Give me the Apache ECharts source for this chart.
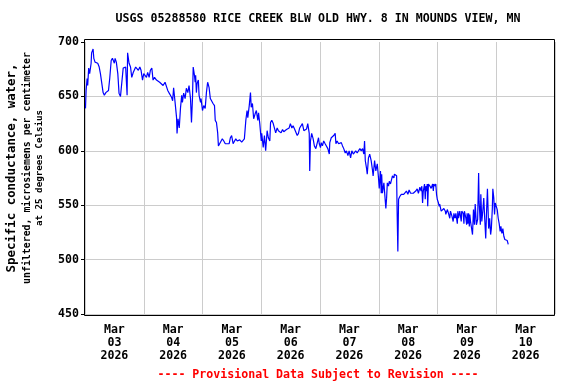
<!DOCTYPE html>
<html><head><meta charset="utf-8">
<script src="https://cdn.jsdelivr.net/npm/echarts@6/dist/echarts.min.js"></script>
<style>html,body{margin:0;padding:0;background:#fff}#c{width:576px;height:384px}</style>
</head><body><div id="c"></div>
<script>
const chartTitle = 'USGS 05288580 RICE CREEK BLW OLD HWY. 8 IN MOUNDS VIEW, MN';
const yAxisTitle = ['Specific conductance, water,', 'unfiltered, microsiemens per centimeter', 'at 25 degrees Celsius'];
const footerText = '---- Provisional Data Subject to Revision ----';
const dayLabels = ['Mar\n03\n2026','Mar\n04\n2026','Mar\n05\n2026','Mar\n06\n2026','Mar\n07\n2026','Mar\n08\n2026','Mar\n09\n2026','Mar\n10\n2026'];
const yTicks = [450, 500, 550, 600, 650, 700];
const hourRange = [0, 192]; // hours since 2026-03-03 00:00
// [hours since Mar 03 00:00, specific conductance]
const readings = [
[0.2,639],[0.45,655.5],[0.86,666.5],[1.1,660],[1.5,676],[1.9,671],[2.5,680.5],[2.7,690],[3.3,693.5],[3.6,685],
[4.1,681.5],[4.7,680.5],[5.2,680.5],[5.8,677],[6.3,671],[6.8,671],[7.4,653.5],[7.9,651],[8.5,653.5],[9.0,653],
[9.6,655.5],[10.1,666.5],[10.7,683],[11.2,685],[11.7,686],[12.0,680.5],[12.3,685],[12.8,681.5],[13.4,671],[13.9,653],
[14.5,650],[15.0,649],[15.6,676],[16.1,677],[16.6,677],[17.2,651],[17.4,690],[18.0,680.5],[18.6,677],[19.1,667.5],
[19.7,672],[20.2,671],[20.7,677],[21.3,676],[21.8,674],[22.4,677],[22.9,674],[23.5,665],[24.0,671],[24.6,672],
[25.1,667.5],[25.6,672],[26.2,667.5],[26.7,674],[27.3,676],[27.8,665],[28.4,667.5],[29.2,665],[30.0,666],[30.5,663],
[31.3,662],[31.9,660],[32.4,661],[32.7,663],[33.3,662],[33.8,655.5],[34.4,653],[34.9,651],[35.4,649],[35.8,646],
[36.2,658],[36.8,644.5],[37.4,630.5],[37.6,616],[38.0,629.5],[38.5,621],[39.0,639],[39.5,651],[39.8,644.5],[40.3,653],
[40.9,648],[41.4,657.5],[42.0,653.5],[42.5,660],[43.1,648],[43.5,626],[43.9,648],[44.2,677],[44.7,669.5],[45.0,663],
[45.2,669.5],[45.5,653.5],[45.8,662],[46.3,665],[46.6,651],[47.2,644.5],[47.4,648],[48.0,637],[48.5,641.5],[49.1,639],
[49.6,653.5],[50.1,663],[50.7,658],[51.2,648],[51.8,649],[52.3,643.5],[52.9,641.5],[53.2,628],[53.7,626],[54.2,616.5],
[54.5,604.5],[55.0,606.5],[55.6,607.5],[56.1,611],[56.7,609],[57.3,606.5],[58.1,606.5],[58.9,606.5],[59.4,612],[59.9,614],
[60.5,606.5],[61.1,609],[61.6,611],[62.2,609],[63.0,608],[63.2,610],[64.0,608],[64.6,606.5],[65.1,611],[65.7,628],
[66.2,637],[66.5,630.5],[67.1,641.5],[67.6,653.5],[67.9,640],[68.4,643.5],[68.9,629.5],[69.5,634],[70.0,637],[70.6,628],
[70.9,635],[71.4,625],[72.0,609],[72.2,616],[72.8,603],[73.3,614],[73.8,600],[74.4,618.5],[74.9,612],[75.5,609],
[75.8,626],[76.3,628],[76.9,625],[77.4,626],[77.9,616.5],[78.5,621],[79.0,618.5],[79.6,620],[80.1,616.5],[80.7,619.5],
[81.2,617.5],[81.8,618.5],[82.3,619.5],[82.8,620],[83.4,621],[83.9,625],[84.5,621],[85.0,623],[85.6,620],[86.1,618.5],
[86.7,614],[87.2,616],[87.7,621],[88.3,620],[88.8,625],[89.4,618.5],[89.9,620],[90.5,620],[91.0,625],[91.3,626],
[91.6,616],[91.8,581.5],[92.1,609],[92.6,616],[93.2,611],[93.7,604.5],[94.3,602],[94.8,606.5],[95.4,612],[95.7,606.5],
[96.2,603],[96.5,607.5],[97.0,604.5],[97.5,609],[98.1,606.5],[98.6,606.5],[99.2,602],[99.8,597],[100.0,607.5],[100.6,612],
[101.1,611],[101.6,614],[102.2,616],[102.5,606.5],[103.0,609],[103.6,606.5],[104.1,607.5],[104.7,607.5],[105.2,604.5],[105.7,602],
[106.3,598],[106.8,600],[107.4,595.5],[107.9,600],[108.5,593.5],[109.0,600],[109.6,597],[110.1,598],[110.6,600],[111.2,598],
[111.7,600],[112.3,602],[112.8,600],[113.4,602],[113.9,597],[114.2,609],[114.5,591],[115.0,584],[115.3,578.5],[115.8,593.5],
[116.3,597],[116.9,591],[117.4,583],[117.7,577],[118.3,591],[118.8,581.5],[119.4,588],[119.9,575],[120.2,565.5],[120.4,572],
[120.7,581.5],[121.0,561],[121.2,578.5],[121.5,561],[122.1,570.5],[122.6,569.5],[122.9,547],[123.2,556.5],[123.5,570.5],[124.0,567.5],
[124.3,572],[124.8,569.5],[125.3,570.5],[125.6,577],[126.2,575],[126.4,578.5],[127.0,578.5],[127.3,577],[127.5,544.5],[127.8,507.5],
[128.1,555.5],[128.6,558],[129.2,560],[129.7,561],[130.2,560],[130.8,561],[131.3,563],[131.9,560],[132.4,564],[133.0,561],
[133.5,560],[134.1,561],[134.6,560],[135.1,563],[135.7,565],[136.2,561],[136.8,566.5],[137.3,563],[137.6,567.5],[137.9,552],
[138.2,563],[138.7,569.5],[139.0,555.5],[139.2,567.5],[139.5,563],[139.8,569.5],[140.0,549],[140.3,569.5],[140.9,567.5],[141.4,565.5],
[142.0,569.5],[142.3,563],[142.5,569.5],[143.1,567.5],[143.3,569.5],[143.6,560],[143.9,555.5],[144.4,552],[144.7,549],[144.9,551],
[145.5,544.5],[146.1,546],[146.6,547],[147.2,544.5],[147.4,541.5],[148.0,546],[148.5,542.5],[149.0,538],[149.3,544.5],[149.9,540],
[150.4,535],[150.7,542.5],[151.2,538],[151.5,542.5],[152.1,533],[152.3,544.5],[152.6,538],[153.1,544.5],[153.7,535],[153.9,544.5],
[154.5,542.5],[154.8,533],[155.0,544.5],[155.6,538],[155.9,532],[156.1,542.5],[156.4,533],[156.7,542.5],[157.0,530.5],[157.2,541.5],
[157.5,535],[157.9,535],[158.3,523],[158.7,546],[159.1,532],[159.4,551],[159.9,532],[160.4,537],[160.8,579.5],[161.0,553.5],
[161.5,532],[161.7,560],[162.1,535],[162.5,544.5],[162.9,556.5],[163.3,537],[163.7,519.5],[164.0,541.5],[164.4,565],[164.9,528.5],
[165.3,538],[165.7,523],[166.0,528.5],[166.4,547],[166.6,565],[167.0,556.5],[167.3,541.5],[167.6,552],[168.0,551],[168.4,546],
[168.8,538],[169.2,533],[169.6,526],[169.9,530.5],[170.3,524],[170.7,528.5],[171.1,521.5],[171.5,518.5],[172.1,517.5],[172.5,517.5],
[172.7,518.5],[172.9,514]
];

const FONT = '"DejaVu Sans Mono", "Liberation Mono", monospace';
const chart = echarts.init(document.getElementById('c'), null, {renderer: 'canvas'});
const gridLeft = 85, gridTop = 42, gridRight = 555, gridBottom = 314;
const yTitleX = [12, 27, 40];
const yTitleSize = [12.4, 9.9, 9.2];
chart.setOption({
  animation: false,
  backgroundColor: '#ffffff',
  grid: {left: gridLeft, top: gridTop, width: gridRight - gridLeft, height: gridBottom - gridTop, containLabel: false},
  xAxis: [
    {type: 'value', min: hourRange[0], max: hourRange[1], show: false},
    {type: 'category', data: dayLabels, position: 'bottom', boundaryGap: true,
     axisLine: {show: false}, axisTick: {show: false},
     splitLine: {show: true, lineStyle: {color: '#cccccc', width: 1}},
     axisLabel: {interval: 0, color: '#000', fontFamily: FONT, fontWeight: 'bold', fontSize: 11.6, lineHeight: 12.8, margin: 10}}
  ],
  yAxis: {
    type: 'value', min: yTicks[0], max: yTicks[yTicks.length - 1], interval: 50,
    axisLine: {show: false},
    axisTick: {show: true, length: 4, lineStyle: {color: '#000'}},
    splitLine: {show: true, lineStyle: {color: ['#cccccc','#cccccc','#cccccc','#cccccc','#cccccc','rgba(0,0,0,0)'], width: 1}},
    axisLabel: {color: '#000', fontFamily: FONT, fontWeight: 'bold', fontSize: 11.6, margin: 6}
  },
  series: [{
    type: 'line', xAxisIndex: 0, yAxisIndex: 0, data: readings, showSymbol: false,
    lineStyle: {color: '#0000ff', width: 1.2}, z: 5
  }],
  graphic: [
    {type: 'rect', shape: {x: 84.5, y: 39.5, width: 470, height: 276}, style: {fill: 'none', stroke: '#000', lineWidth: 1}, z: 100, silent: true},
    {type: 'text', x: 318, y: 19, style: {text: chartTitle, fill: '#000', font: 'bold 11.6px ' + FONT, textAlign: 'center', textVerticalAlign: 'middle'}},
    {type: 'text', x: 318, y: 375, style: {text: footerText, fill: '#ff0000', font: 'bold 11.6px ' + FONT, textAlign: 'center', textVerticalAlign: 'middle'}}
  ].concat(yAxisTitle.map((line, i) => ({
    type: 'text', x: yTitleX[i], y: 168, rotation: Math.PI / 2,
    style: {text: line, fill: '#000', font: 'bold ' + yTitleSize[i] + 'px ' + FONT, textAlign: 'center', textVerticalAlign: 'middle'}
  })))
});
</script></body></html>
